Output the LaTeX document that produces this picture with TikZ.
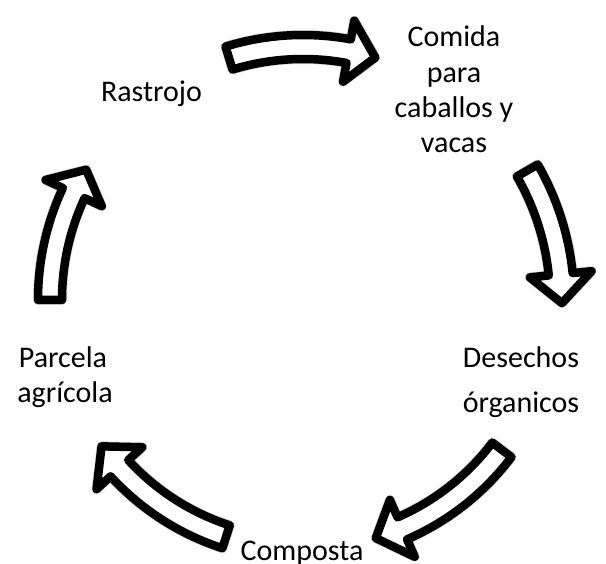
\documentclass[tikz,border=0pt]{standalone}
\usepackage{fontspec}
\setmainfont{Carlito}
\usetikzlibrary{calc}
\tikzset{
  arrowshape/.style={draw=black, fill=white, line width=8.5pt, line join=round},
  arrowshadow/.style={draw=black!15, fill=black!15, line width=10pt, line join=round},
  lbl/.style={anchor=base, inner sep=0pt, font=\fontsize{30}{36}\selectfont}
}
% #1 radius, #2 tail angle, #3 head base angle, #4 tip angle (screen clockwise), #5 style
\newcommand\cycarrowpath[5]{%
  \pgfmathsetmacro\ro{#1+12}\pgfmathsetmacro\ri{#1-12}%
  \pgfmathsetmacro\ho{#1+31}\pgfmathsetmacro\hi{#1-31}%
  \path[#5] ($(C)+({-#2}:\ro pt)$) arc[start angle={-#2}, end angle={-#3}, radius=\ro pt]
    -- ($(C)+({-#3}:\ho pt)$) -- ($(C)+({-#4}:#1 pt)$) -- ($(C)+({-#3}:\hi pt)$)
    -- ($(C)+({-#3}:\ri pt)$) arc[start angle={-#3}, end angle={-#2}, radius=\ri pt] -- cycle;
}
\newcommand\cycarrow[4]{%
  \begin{scope}[shift={(2pt,-3pt)}]\cycarrowpath{#1}{#2}{#3}{#4}{arrowshadow}\end{scope}%
  \cycarrowpath{#1}{#2}{#3}{#4}{arrowshape}%
}
\begin{document}
\begin{tikzpicture}[x=1pt,y=1pt]
  \useasboundingbox[fill=white] (0,0) rectangle (606,564);
  \coordinate (C) at (303,264);
  % arrows
  \cycarrow{253}{-107}{-79.6}{-73.4}
  \cycarrow{259}{-30}{-5.7}{0.7}
  \cycarrow{249}{37}{66.5}{73}
  \cycarrow{249}{108}{137.5}{144}
  \cycarrow{253}{180}{205}{211}
  % labels
  \node[lbl] (rastrojo) at (151.5,462) {Rastrojo};
  \node[lbl] (comida1) at (454,517) {Comida};
  \node[lbl] (comida2) at (454,481) {para};
  \node[lbl] (comida3) at (454,446) {caballos y};
  \node[lbl] (comida4) at (454,411) {vacas};
  \node[lbl] (desechos1) at (521,196) {Desechos};
  \node[lbl] (desechos2) at (521,151) {órganicos};
  \node[lbl] (composta) at (302,3) {Composta};
  \node[lbl] (parcela1) at (63,196) {Parcela};
  \node[lbl] (parcela2) at (65,161) {agrícola};
\end{tikzpicture}
\end{document}
